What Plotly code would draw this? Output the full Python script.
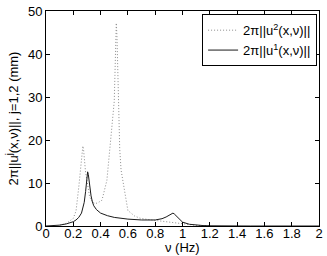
import plotly.graph_objects as go

# frequency response
nu_u1 = [0, 0.05, 0.1, 0.15, 0.2, 0.22, 0.24, 0.26, 0.27, 0.28, 0.29, 0.3, 0.305, 0.31,
         0.315, 0.32, 0.33, 0.34, 0.35, 0.37, 0.4, 0.45, 0.5, 0.6, 0.7, 0.8, 0.85, 0.88,
         0.9, 0.92, 0.93, 0.94, 0.96, 0.98, 1.0, 1.05, 1.1, 1.15, 1.2, 1.3, 1.5, 2.0]
amp_u1 = [0, 0.05, 0.2, 0.5, 1.0, 1.4, 2.0, 3.0, 4.0, 5.5, 8.0, 11.5, 12.6, 12.0,
          10.5, 9.0, 7.0, 5.6, 4.7, 3.8, 3.0, 2.4, 2.0, 1.6, 1.4, 1.4, 1.7, 2.1,
          2.5, 2.9, 3.0, 2.8, 2.1, 1.4, 0.9, 0.4, 0.2, 0.1, 0.05, 0, 0, 0]

nu_u2 = [0.1, 0.15, 0.2, 0.22, 0.24, 0.25, 0.26, 0.265, 0.27, 0.275, 0.28, 0.29, 0.3,
         0.31, 0.32, 0.34, 0.36, 0.38, 0.41, 0.446, 0.48, 0.5, 0.505, 0.51, 0.515, 0.52,
         0.525, 0.53, 0.54, 0.55, 0.57, 0.6, 0.65, 0.69, 0.75, 0.8, 0.85, 0.9, 0.95,
         1.0, 1.05, 1.1, 1.2]
amp_u2 = [0.2, 0.6, 1.8, 3.5, 9.0, 12.0, 15.5, 17.5, 18.6, 17.8, 15.5, 12.5, 10.6,
          8.0, 6.7, 5.6, 5.2, 5.4, 6.0, 10.6, 21.5, 29.0, 35.0, 42.0, 47.2, 44.0,
          36.0, 28.0, 18.0, 13.0, 9.0, 3.6, 2.3, 1.8, 1.5, 1.3, 1.1, 0.9, 0.7,
          0.5, 0.3, 0.15, 0.05]

x_ticks = [0, 0.2, 0.4, 0.6, 0.8, 1, 1.2, 1.4, 1.6, 1.8, 2]
x_labels = ["0", "0.2", "0.4", "0.6", "0.8", "1", "1.2", "1.4", "1.6", "1.8", "2"]
y_ticks = [0, 10, 20, 30, 40, 50]

fig = go.Figure()
fig.add_trace(go.Scatter(x=nu_u2, y=amp_u2, mode="lines", name="2π||u<sup>2</sup>(x,ν)||",
                         line=dict(color="#8c8c8c", width=1, dash="1px,2px")))
fig.add_trace(go.Scatter(x=nu_u1, y=amp_u1, mode="lines", name="2π||u<sup>1</sup>(x,ν)||",
                         line=dict(color="#1a1a1a", width=1)))

axis = dict(showline=True, mirror="ticks", linecolor="black", linewidth=1,
            ticks="inside", ticklen=4, tickcolor="black", showgrid=False, zeroline=False,
            tickfont=dict(size=13, color="black"), automargin=False,
            ticklabeloverflow="allow")

fig.update_layout(
    width=327, height=256,
    margin=dict(l=46, r=8, t=11, b=30),
    paper_bgcolor="white", plot_bgcolor="white",
    font=dict(family="Liberation Sans, Arial, sans-serif", size=13, color="black"),
    xaxis=dict(axis, range=[0, 2], tickvals=x_ticks, ticktext=x_labels,
               ticklabelstandoff=-5),
    yaxis=dict(axis, range=[0, 50], tickvals=y_ticks),
    legend=dict(x=0.993, y=0.985, xanchor="right", yanchor="top",
                bordercolor="black", borderwidth=1, bgcolor="white",
                font=dict(size=13), tracegroupgap=0),
    showlegend=True,
)

# axis titles as annotations so they sit where the reference has them
fig.add_annotation(text="ν (Hz)", xref="paper", yref="paper", x=0.5, y=0,
                   xanchor="center", yanchor="top", yshift=-12, showarrow=False,
                   font=dict(size=13))
fig.add_annotation(text="2π||u<sup>j</sup>(x,ν)||, j=1,2 (mm)", xref="paper", yref="paper",
                   x=0, y=0.5, xanchor="center", yanchor="middle", xshift=-34,
                   textangle=-90, showarrow=False, font=dict(size=13))

# page body has a default margin; drop it so the figure fills the window
fig.write_html("out.html", config={"displayModeBar": False},
               post_script="document.body.style.margin='0';")
